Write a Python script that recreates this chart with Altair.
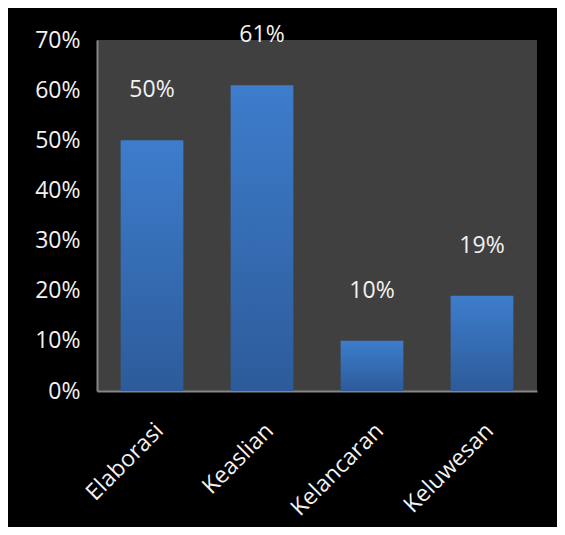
import altair as alt
import pandas as pd

categories = ["Elaborasi", "Keaslian", "Kelancaran", "Keluwesan"]
values = [0.50, 0.61, 0.10, 0.19]
labels = ["50%", "61%", "10%", "19%"]

df = pd.DataFrame({"cat": categories, "val": values, "lab": labels})

FONT = "Open Sans"
FS = 23

x = alt.X("cat:N", sort=categories, title=None,
          scale=alt.Scale(paddingInner=0.43, paddingOuter=0.215),
          axis=alt.Axis(labelAngle=-45, labelAlign="right", labelBaseline="top",
                        labelPadding=28, ticks=False, labelFontSize=FS,
                        labelColor="#f2f2f2", labelFont=FONT,
                        domainColor="#868686", domainWidth=2))
y = alt.Y("val:Q", title=None,
          scale=alt.Scale(domain=[0, 0.7]),
          axis=alt.Axis(format=".0%", values=[0, 0.1, 0.2, 0.3, 0.4, 0.5, 0.6, 0.7],
                        grid=False, ticks=False, labelPadding=17, labelFontSize=FS,
                        labelColor="#f2f2f2", labelFont=FONT,
                        domainColor="#868686", domainWidth=2))

bars = alt.Chart(df).mark_bar(
    color=alt.Gradient(gradient="linear", x1=0, y1=0, x2=0, y2=1,
                       stops=[alt.GradientStop(color="#3d7dcc", offset=0),
                              alt.GradientStop(color="#2d5b9a", offset=1)])
).encode(x=x, y=y)

text = alt.Chart(df).mark_text(
    font=FONT, fontSize=FS, color="#f2f2f2", baseline="middle", dy=-50
).encode(x=alt.X("cat:N", sort=categories), y="val:Q", text="lab:N")

chart = (bars + text).properties(
    width=440, height=351,
    background="black",
    padding={"left": 89, "top": 32, "right": 20, "bottom": 136},
    autosize=alt.AutoSizeParams(type="none"),
).configure_view(fill="#404040", stroke=None)

chart.save("out.html", embed_options={"renderer": "svg", "actions": False})
